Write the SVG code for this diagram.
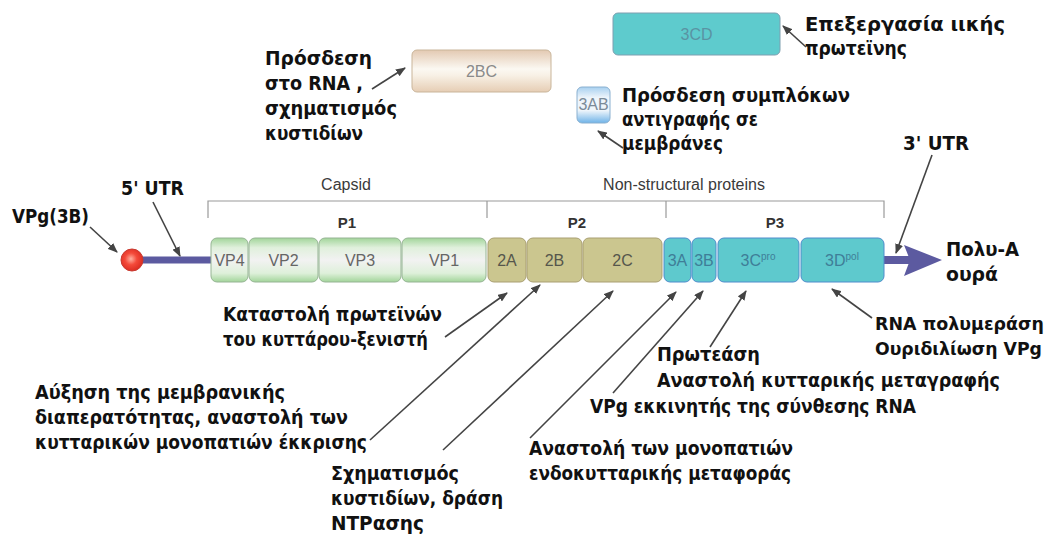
<svg xmlns="http://www.w3.org/2000/svg" width="1052" height="535" viewBox="0 0 1052 535">
<defs>
<style>
.lbl{font-family:"DejaVu Sans","Liberation Sans",Arial,sans-serif;font-weight:bold;font-size:19px;fill:#111}
.hdr{font-family:"Liberation Sans",Arial,sans-serif;font-size:16px;fill:#3a3a3a;text-anchor:middle}
.ph{font-family:"Liberation Sans",Arial,sans-serif;font-weight:bold;font-size:15px;fill:#333;text-anchor:middle}
.st{font-family:"Liberation Sans",Arial,sans-serif;font-size:16px;text-anchor:middle}
.cap rect{fill:url(#gCap);stroke:#96b494;stroke-width:1}
.cap text{fill:#666}
.p2 rect{fill:#cbc68f;stroke:#a99f72;stroke-width:1}
.p2 text{fill:#56564c}
.p3 rect{fill:#5ec9cd;stroke:#4f8ccc;stroke-width:1}
.p3 text{fill:#3f7e98}
.conn line{stroke:#444;stroke-width:1.6;marker-end:url(#ah)}
.brk{fill:none;stroke:#9a9a9a;stroke-width:1.2}
</style>
<marker id="ah" viewBox="0 0 10 8" refX="9" refY="4" markerWidth="10" markerHeight="8" markerUnits="userSpaceOnUse" orient="auto">
<path d="M0,0 L10,4 L0,8 Z" fill="#444"/>
</marker>
<linearGradient id="gCap" x1="0" y1="0" x2="0" y2="1">
<stop offset="0" stop-color="#a2d59a"/><stop offset="0.22" stop-color="#e0f0dc"/><stop offset="0.5" stop-color="#f2f2f2"/><stop offset="0.8" stop-color="#def0da"/><stop offset="1" stop-color="#a2d59a"/>
</linearGradient>
<linearGradient id="g2BC" x1="0" y1="0" x2="0" y2="1">
<stop offset="0" stop-color="#e3c9b2"/><stop offset="0.45" stop-color="#fbf8f2"/><stop offset="0.6" stop-color="#f8f1e6"/><stop offset="1" stop-color="#e6cdb4"/>
</linearGradient>
<linearGradient id="g3AB" x1="0" y1="0" x2="0" y2="1">
<stop offset="0" stop-color="#a8d0f0"/><stop offset="0.3" stop-color="#eef5fb"/><stop offset="0.65" stop-color="#eef5fb"/><stop offset="1" stop-color="#6fb3e8"/>
</linearGradient>
<radialGradient id="gRed" cx="0.45" cy="0.45" r="0.6">
<stop offset="0" stop-color="#ffb0a0"/><stop offset="0.45" stop-color="#f44a3a"/><stop offset="1" stop-color="#d8281e"/>
</radialGradient>
</defs>
<rect width="1052" height="535" fill="#ffffff"/>

<!-- genome backbone -->
<g id="backbone">
<line x1="140" y1="260" x2="214" y2="260" stroke="#5c5aa0" stroke-width="7"/>
<line x1="882" y1="260" x2="910" y2="260" stroke="#5c5aa0" stroke-width="8"/>
<polygon points="904,245 942,260 904,276 910,260" fill="#5c5aa0"/>
</g>
<g id="vpg-ball"><circle cx="132" cy="260" r="11" fill="url(#gRed)" stroke="#c83a30" stroke-width="1"/></g>

<!-- brackets -->
<g id="brackets">
<path class="brk" d="M208,218 V201 H884 V218 M487,201 V218 M666,201 V218"/>
<text class="hdr" x="346" y="190">Capsid</text>
<text class="hdr" x="684" y="190">Non-structural proteins</text>
<text class="ph" x="347" y="228">P1</text>
<text class="ph" x="577" y="228">P2</text>
<text class="ph" x="775" y="228">P3</text>
</g>

<!-- polyprotein segments -->
<g id="VP4" class="cap"><rect x="211" y="238" width="37" height="44" rx="6"/><text class="st" x="229.5" y="266">VP4</text></g>
<g id="VP2" class="cap"><rect x="249" y="238" width="69" height="44" rx="6"/><text class="st" x="283.5" y="266">VP2</text></g>
<g id="VP3" class="cap"><rect x="319" y="238" width="82" height="44" rx="6"/><text class="st" x="360" y="266">VP3</text></g>
<g id="VP1" class="cap"><rect x="402" y="238" width="84" height="44" rx="6"/><text class="st" x="444" y="266">VP1</text></g>
<g id="s2A" class="p2"><rect x="488" y="238" width="38" height="44" rx="6"/><text class="st" x="507" y="266">2A</text></g>
<g id="s2B" class="p2"><rect x="527" y="238" width="55" height="44" rx="6"/><text class="st" x="554.5" y="266">2B</text></g>
<g id="s2C" class="p2"><rect x="583" y="238" width="79" height="44" rx="6"/><text class="st" x="622.5" y="266">2C</text></g>
<g id="s3A" class="p3"><rect x="664" y="238" width="27" height="44" rx="6"/><text class="st" x="677.5" y="266">3A</text></g>
<g id="s3B" class="p3"><rect x="692" y="238" width="24" height="44" rx="6"/><text class="st" x="704" y="266">3B</text></g>
<g id="s3C" class="p3"><rect x="718" y="238" width="81" height="44" rx="6"/><text class="st" x="758" y="266">3C<tspan font-size="10" dy="-6">pro</tspan></text></g>
<g id="s3D" class="p3"><rect x="801" y="238" width="83" height="44" rx="6"/><text class="st" x="842" y="266">3D<tspan font-size="10" dy="-6">pol</tspan></text></g>

<!-- precursor boxes -->
<g id="box2BC"><rect x="412" y="50" width="139" height="42" rx="5" fill="url(#g2BC)" stroke="#c9b59a" stroke-width="1"/><text class="st" x="481.5" y="77" fill="#8a8a8a">2BC</text></g>
<g id="box3CD"><rect x="613" y="13" width="167" height="42" rx="5" fill="#5ecbcd" stroke="#7f9fb0" stroke-width="1"/><text class="st" x="696.5" y="40" fill="#5a93a3">3CD</text></g>
<g id="box3AB"><rect x="577" y="87" width="33" height="36" rx="5" fill="url(#g3AB)" stroke="#8ab0d0" stroke-width="1"/><text class="st" x="593.5" y="110" fill="#7a8a98" font-size="13">3AB</text></g>

<!-- labels -->
<g id="lbl-3CD">
<text class="lbl" x="805" y="31" textLength="200" lengthAdjust="spacingAndGlyphs">Επεξεργασία ιικής</text>
<text class="lbl" x="805" y="55" textLength="102" lengthAdjust="spacingAndGlyphs">πρωτεϊνης</text>
</g>
<g id="lbl-2BC">
<text class="lbl" x="265" y="65" textLength="107" lengthAdjust="spacingAndGlyphs">Πρόσδεση</text>
<text class="lbl" x="265" y="90" textLength="98" lengthAdjust="spacingAndGlyphs">στο RNA ,</text>
<text class="lbl" x="265" y="115" textLength="132" lengthAdjust="spacingAndGlyphs">σχηματισμός</text>
<text class="lbl" x="265" y="140" textLength="98" lengthAdjust="spacingAndGlyphs">κυστιδίων</text>
</g>
<g id="lbl-3AB">
<text class="lbl" x="622" y="102" textLength="228" lengthAdjust="spacingAndGlyphs">Πρόσδεση συμπλόκων</text>
<text class="lbl" x="622" y="126" textLength="136" lengthAdjust="spacingAndGlyphs">αντιγραφής σε</text>
<text class="lbl" x="622" y="150" textLength="101" lengthAdjust="spacingAndGlyphs">μεμβράνες</text>
</g>
<g id="lbl-3UTR"><text class="lbl" x="903" y="150" textLength="66" lengthAdjust="spacingAndGlyphs">3' UTR</text></g>
<g id="lbl-5UTR"><text class="lbl" x="121" y="195" textLength="63" lengthAdjust="spacingAndGlyphs">5' UTR</text></g>
<g id="lbl-VPg"><text class="lbl" x="12" y="223" textLength="77" lengthAdjust="spacingAndGlyphs">VPg(3B)</text></g>
<g id="lbl-polyA">
<text class="lbl" x="946" y="256" textLength="73" lengthAdjust="spacingAndGlyphs">Πολυ-A</text>
<text class="lbl" x="946" y="281" textLength="52" lengthAdjust="spacingAndGlyphs">ουρά</text>
</g>
<g id="lbl-2A">
<text class="lbl" x="223" y="321" textLength="219" lengthAdjust="spacingAndGlyphs">Καταστολή πρωτεϊνών</text>
<text class="lbl" x="223" y="346" textLength="205" lengthAdjust="spacingAndGlyphs">του κυττάρου-ξενιστή</text>
</g>
<g id="lbl-2B">
<text class="lbl" x="35" y="399" textLength="250" lengthAdjust="spacingAndGlyphs">Αύξηση της μεμβρανικής</text>
<text class="lbl" x="35" y="424" textLength="313" lengthAdjust="spacingAndGlyphs">διαπερατότητας, αναστολή των</text>
<text class="lbl" x="35" y="449" textLength="332" lengthAdjust="spacingAndGlyphs">κυτταρικών μονοπατιών έκκρισης</text>
</g>
<g id="lbl-2C">
<text class="lbl" x="331" y="480" textLength="128" lengthAdjust="spacingAndGlyphs">Σχηματισμός</text>
<text class="lbl" x="331" y="505" textLength="172" lengthAdjust="spacingAndGlyphs">κυστιδίων, δράση</text>
<text class="lbl" x="331" y="530" textLength="93" lengthAdjust="spacingAndGlyphs">NTPασης</text>
</g>
<g id="lbl-3A">
<text class="lbl" x="529" y="455" textLength="264" lengthAdjust="spacingAndGlyphs">Αναστολή των μονοπατιών</text>
<text class="lbl" x="529" y="480" textLength="262" lengthAdjust="spacingAndGlyphs">ενδοκυτταρικής μεταφοράς</text>
</g>
<g id="lbl-3B"><text class="lbl" x="590" y="413" textLength="326" lengthAdjust="spacingAndGlyphs">VPg εκκινητής της σύνθεσης RNA</text></g>
<g id="lbl-3C">
<text class="lbl" x="657" y="361" textLength="103" lengthAdjust="spacingAndGlyphs">Πρωτεάση</text>
<text class="lbl" x="657" y="387" textLength="343" lengthAdjust="spacingAndGlyphs">Αναστολή κυτταρικής μεταγραφής</text>
</g>
<g id="lbl-3D">
<text class="lbl" x="875" y="330" font-size="17" style="font-size:17px" textLength="169" lengthAdjust="spacingAndGlyphs">RNA πολυμεράση</text>
<text class="lbl" x="875" y="355" font-size="17" style="font-size:17px" textLength="167" lengthAdjust="spacingAndGlyphs">Ουριδιλίωση VPg</text>
</g>

<!-- connectors -->
<g id="connectors" class="conn">
<line x1="806" y1="47" x2="783" y2="26"/>
<line x1="372" y1="89" x2="405" y2="68"/>
<line x1="623" y1="148" x2="598" y2="131"/>
<line x1="932" y1="155" x2="896" y2="253"/>
<line x1="153" y1="202" x2="180" y2="256"/>
<line x1="90" y1="227" x2="117" y2="252"/>
<line x1="445" y1="337" x2="507" y2="293"/>
<line x1="370" y1="440" x2="540" y2="285"/>
<line x1="443" y1="450" x2="613" y2="291"/>
<line x1="530" y1="438" x2="676" y2="292"/>
<line x1="613" y1="393" x2="703" y2="291"/>
<line x1="710" y1="347" x2="746" y2="291"/>
<line x1="872" y1="318" x2="832" y2="289"/>
</g>
</svg>
